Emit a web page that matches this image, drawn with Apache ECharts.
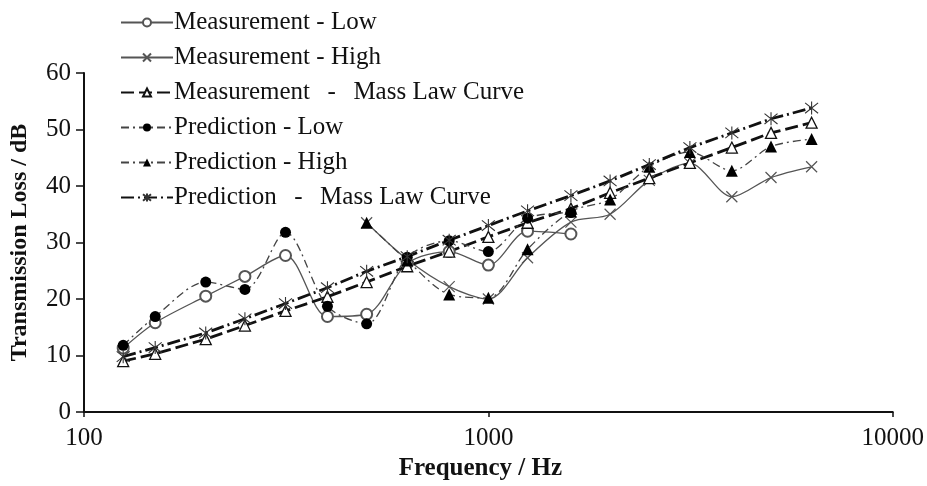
<!DOCTYPE html>
<html>
<head>
<meta charset="utf-8">
<script src="https://cdn.jsdelivr.net/npm/echarts@6/dist/echarts.min.js"></script>
<style>
  html, body { margin: 0; padding: 0; background: #fff; }
  #chart { width: 927px; height: 486px; }
</style>
</head>
<body>
<div id="chart"></div>
<script>
// One-third-octave band centre frequencies (Hz)
var frequencies = [125, 150, 200, 250, 315, 400, 500, 630, 800, 1000, 1250, 1600, 2000, 2500, 3150, 4000, 5000, 6300];

// Transmission loss (dB) per band; null where a series has no value
var measurementLow  = [11.3, 15.8, 20.5, 24.0, 27.7, 16.9, 17.3, 26.3, 28.4, 26.0, 32.0, 31.5, null, null, null, null, null, null];
var measurementHigh = [null, null, null, null, null, null, 33.5, 27.0, 22.2, 20.0, 27.3, 33.6, 35.0, 41.0, 44.0, 38.1, 41.5, 43.4];
var measurementMass = [9.0, 10.3, 12.9, 15.3, 17.9, 20.4, 23.0, 25.8, 28.4, 31.0, 33.5, 36.0, 38.8, 41.4, 44.1, 46.8, 49.4, 51.2];
var predictionLow   = [11.8, 16.9, 23.0, 21.7, 31.8, 18.7, 15.6, 27.4, 30.3, 28.4, 34.3, 35.3, null, null, null, null, null, null];
var predictionHigh  = [null, null, null, null, null, null, 33.5, 26.8, 20.8, 20.2, 28.8, 35.5, 37.6, 43.4, 46.0, 42.7, 47.0, 48.3];
var predictionMass  = [9.8, 11.4, 14.0, 16.5, 19.2, 22.0, 24.9, 27.5, 30.4, 33.0, 35.6, 38.3, 40.9, 43.8, 46.8, 49.4, 51.9, 53.8];

var xTicks = [100, 1000, 10000];
var yTicks = [0, 10, 20, 30, 40, 50, 60];

// wide gap around the dash in the mass-law entries
var SP = '\u00a0\u00a0\u2009';
var seriesNames = [
  'Measurement - Low',
  'Measurement - High',
  'Measurement' + SP + '-' + SP + 'Mass Law Curve',
  'Prediction - Low',
  'Prediction - High',
  'Prediction' + SP + '-' + SP + 'Mass Law Curve'
];

function pairs(values) {
  var out = [];
  for (var i = 0; i < frequencies.length; i++) {
    if (values[i] !== null) out.push([frequencies[i], values[i]]);
  }
  return out;
}

var SERIF = '"Liberation Serif", "Times New Roman", serif';
var CROSS = 'path://M0,0L10,10M10,0L0,10';
var ASTERISK = 'path://M0,1L10,9M10,1L0,9M5,0L5,10';

var chart = echarts.init(document.getElementById('chart'), null, { renderer: 'canvas' });

chart.setOption({
  animation: false,
  backgroundColor: '#fff',
  textStyle: { fontFamily: SERIF, color: '#111' },
  grid: { left: 84, right: 34, top: 73, bottom: 73, containLabel: false },
  legend: {
    orient: 'vertical',
    left: 115,
    top: 5,
    itemWidth: 52,
    itemHeight: 10,
    itemGap: 10,
    textStyle: { fontFamily: SERIF, fontSize: 25, color: '#111', padding: [0, 0, 0, -4] },
    data: seriesNames
  },
  xAxis: {
    type: 'log',
    logBase: 10,
    min: xTicks[0],
    max: xTicks[xTicks.length - 1],
    name: 'Frequency / Hz',
    nameLocation: 'middle',
    nameGap: 44,
    nameTextStyle: { fontFamily: SERIF, fontSize: 25, fontWeight: 'bold', color: '#111', padding: [0, 16, 0, 0] },
    axisLine: { lineStyle: { color: '#111', width: 2 } },
    axisTick: { show: true, length: 5, lineStyle: { color: '#111', width: 1.5 } },
    minorTick: { show: false },
    splitLine: { show: false },
    axisLabel: {
      fontFamily: SERIF, fontSize: 25, color: '#111', margin: 14,
      formatter: function (v) { return String(Math.round(v)); }
    }
  },
  yAxis: {
    type: 'value',
    min: yTicks[0],
    max: yTicks[yTicks.length - 1],
    interval: 10,
    name: 'Transmission Loss / dB',
    nameLocation: 'middle',
    nameGap: 52,
    nameTextStyle: { fontFamily: SERIF, fontSize: 24, fontWeight: 'bold', color: '#111' },
    axisLine: { show: true, lineStyle: { color: '#111', width: 2 } },
    axisTick: { show: true, length: 8, lineStyle: { color: '#111', width: 1.5 } },
    splitLine: { show: false },
    axisLabel: { fontFamily: SERIF, fontSize: 25, color: '#111', margin: 13 }
  },
  series: [
    {
      name: seriesNames[0],
      type: 'line',
      data: pairs(measurementLow),
      smooth: 0.3,
      symbol: 'emptyCircle',
      symbolSize: 11,
      lineStyle: { color: '#555', width: 1.3, type: 'solid' },
      itemStyle: { color: '#555', borderColor: '#555', borderWidth: 1.2 }
    },
    {
      name: seriesNames[1],
      type: 'line',
      data: pairs(measurementHigh),
      smooth: 0.3,
      symbol: CROSS,
      symbolSize: 11,
      lineStyle: { color: '#555', width: 1.3, type: 'solid' },
      itemStyle: { color: '#555', borderColor: '#555', borderWidth: 1.2 }
    },
    {
      name: seriesNames[2],
      type: 'line',
      data: pairs(measurementMass),
      symbol: 'triangle',
      symbolSize: 11,
      lineStyle: { color: '#111', width: 2.8, type: [13, 5] },
      itemStyle: { color: '#fff', borderColor: '#111', borderWidth: 1.3 }
    },
    {
      name: seriesNames[3],
      type: 'line',
      data: pairs(predictionLow),
      smooth: 0.3,
      symbol: 'circle',
      symbolSize: 11,
      lineStyle: { color: '#444', width: 1.3, type: [8, 4, 2, 4] },
      itemStyle: { color: '#000', borderColor: '#000', borderWidth: 0 }
    },
    {
      name: seriesNames[4],
      type: 'line',
      data: pairs(predictionHigh),
      smooth: 0.3,
      symbol: 'triangle',
      symbolSize: 12,
      lineStyle: { color: '#444', width: 1.3, type: [8, 4, 2, 4] },
      itemStyle: { color: '#000', borderColor: '#000', borderWidth: 0 }
    },
    {
      name: seriesNames[5],
      type: 'line',
      data: pairs(predictionMass),
      symbol: ASTERISK,
      symbolSize: 13,
      lineStyle: { color: '#111', width: 2.8, type: [13, 4, 2, 4] },
      itemStyle: { color: '#333', borderColor: '#333', borderWidth: 1.1 }
    }
  ]
});
</script>
</body>
</html>
